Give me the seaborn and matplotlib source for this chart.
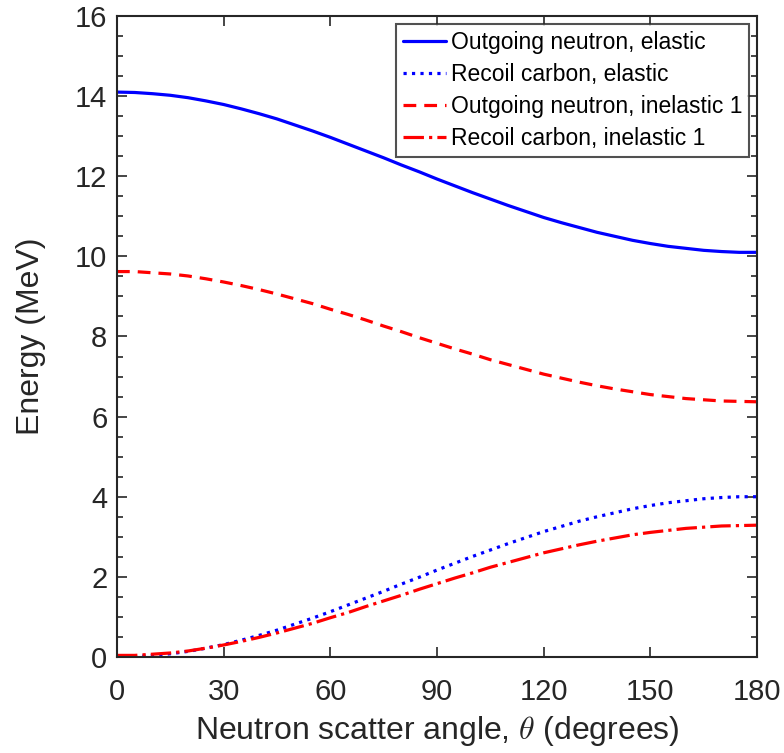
import matplotlib
matplotlib.use("Agg")
import matplotlib.pyplot as plt
import seaborn as sns
import pandas as pd
from matplotlib.ticker import MultipleLocator

angles = [0, 5, 10, 15, 20, 25, 30, 35, 40, 45, 50, 55, 60, 65, 70, 75, 80, 85, 90,
          95, 100, 105, 110, 115, 120, 125, 130, 135, 140, 145, 150, 155, 160, 165, 170, 175, 180]
neutron_elastic = [14.10, 14.09, 14.06, 14.02, 13.96, 13.88, 13.79, 13.68, 13.56, 13.43,
                   13.28, 13.13, 12.97, 12.80, 12.63, 12.46, 12.28, 12.11, 11.93,
                   11.76, 11.59, 11.43, 11.27, 11.12, 10.97, 10.84, 10.72, 10.60, 10.50,
                   10.40, 10.32, 10.25, 10.20, 10.15, 10.12, 10.10, 10.10]
carbon_elastic = [0.00, 0.01, 0.04, 0.08, 0.14, 0.22, 0.31, 0.42, 0.54, 0.67,
                  0.82, 0.97, 1.13, 1.30, 1.47, 1.64, 1.82, 1.99, 2.17,
                  2.34, 2.51, 2.67, 2.83, 2.98, 3.13, 3.26, 3.39, 3.50, 3.60,
                  3.70, 3.78, 3.85, 3.90, 3.95, 3.98, 4.00, 4.00]
neutron_inel1 = [9.62, 9.62, 9.59, 9.56, 9.51, 9.44, 9.36, 9.27, 9.17, 9.06,
                 8.94, 8.82, 8.68, 8.55, 8.41, 8.26, 8.12, 7.97, 7.83,
                 7.69, 7.56, 7.42, 7.30, 7.18, 7.06, 6.96, 6.86, 6.77, 6.69,
                 6.62, 6.55, 6.50, 6.45, 6.42, 6.39, 6.38, 6.37]
carbon_inel1 = [0.04, 0.04, 0.07, 0.10, 0.15, 0.22, 0.30, 0.39, 0.49, 0.60,
                0.72, 0.84, 0.98, 1.11, 1.26, 1.40, 1.54, 1.69, 1.83,
                1.97, 2.10, 2.24, 2.36, 2.48, 2.60, 2.70, 2.80, 2.89, 2.97,
                3.05, 3.11, 3.16, 3.21, 3.24, 3.27, 3.28, 3.29]
series_names = ["Outgoing neutron, elastic", "Recoil carbon, elastic",
                "Outgoing neutron, inelastic 1", "Recoil carbon, inelastic 1"]

sns.set_style("ticks")
plt.rcParams['font.family'] = ['Liberation Sans', 'DejaVu Sans']
plt.rcParams['mathtext.fontset'] = 'cm'

fig = plt.figure(figsize=(7.84, 7.53), dpi=100)
ax = fig.add_axes([0.1492, 0.1275, 0.8164, 0.8513])

styles = [("blue", "-"), ("blue", ":"), ("red", (0, (4, 2.5))), ("red", "-.")]
data = [neutron_elastic, carbon_elastic, neutron_inel1, carbon_inel1]
for name, vals, (col, ls) in zip(series_names, data, styles):
    df = pd.DataFrame({"angle": angles, "energy": vals})
    sns.lineplot(data=df, x="angle", y="energy", ax=ax, color=col, linestyle=ls,
                 linewidth=2.3, label=name)

ax.set_xlim(0, 180)
ax.set_ylim(0, 16)
ax.set_xticks([0, 30, 60, 90, 120, 150, 180])
ax.set_yticks(range(0, 17, 2))
ax.yaxis.set_minor_locator(MultipleLocator(0.5))
axcol = "#262626"
for s in ax.spines.values():
    s.set_visible(True)
    s.set_color(axcol)
    s.set_linewidth(1.5)
ax.tick_params(which="both", direction="in", top=True, right=True, colors=axcol,
               labelsize=21, width=1.2)
ax.tick_params(which="major", length=7)
ax.tick_params(which="minor", length=4)
ax.tick_params(axis="x", pad=15)
ax.tick_params(axis="y", pad=7)
ax.set_xlabel(r"Neutron scatter angle, $\theta$ (degrees)", fontsize=23, color=axcol,
              labelpad=6)
ax.set_ylabel("Energy (MeV)", fontsize=23, color=axcol, labelpad=21)
for lab in ax.get_xticklabels() + ax.get_yticklabels():
    lab.set_color(axcol)

leg = ax.legend(loc="upper right", fontsize=16.5, frameon=True, fancybox=False,
                edgecolor=axcol, handlelength=1.9, handletextpad=0.2,
                borderaxespad=0.35, borderpad=0.3, labelspacing=0.4)
leg.get_frame().set_linewidth(1.5)
for t in leg.get_texts():
    t.set_color("black")

fig.savefig("out.png", dpi=100)
